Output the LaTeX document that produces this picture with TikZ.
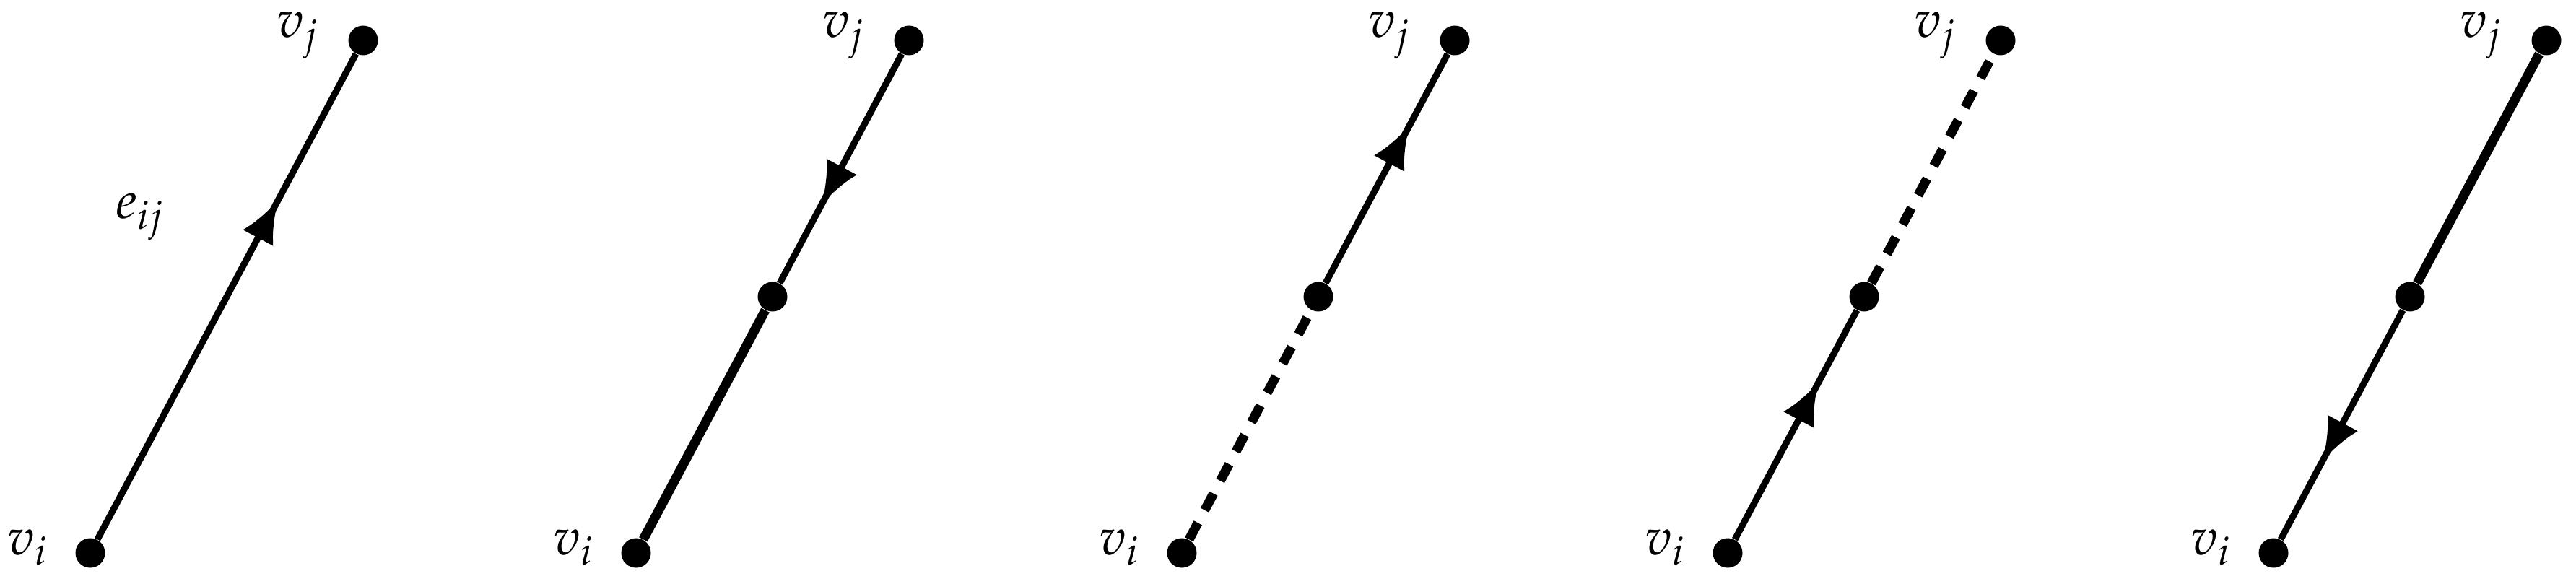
\documentclass[tikz,border=0pt]{standalone}
\usepackage{mathpazo}
\usetikzlibrary{arrows.meta,decorations.markings}

\tikzset{
  vertex/.style={circle,fill=black,inner sep=0pt,minimum size=0.41cm},
  vlabel/.style={inner sep=0pt,font=\fontsize{20.5}{24}\selectfont},
  thinedge/.style={line width=0.09cm},
  thickedge/.style={line width=0.13cm},
  dashedge/.style={line width=0.13cm,dash pattern=on 0.26cm off 0.2cm},
  arrowat/.style={postaction={decorate},
    decoration={markings,mark=at position #1 with {\arrow{Latex[length=0.6cm,width=0.48cm]}}}}
}

\begin{document}
\begin{tikzpicture}
  \useasboundingbox (0,0) rectangle (35.68,8.08);

  % one edge e_ij
  \node[vertex] (vi1) at ( 1.25,0.42) {};
  \node[vertex] (vj1) at ( 5.03,7.52) {};
  \draw[thinedge,arrowat=0.70] (vi1) -- (vj1);
  \node[vlabel,anchor=base west] (eij) at (1.60,5.05) {$e_{ij}$};

  % split, incoming from v_j
  \node[vertex] (vi2) at ( 8.81,0.42) {};
  \node[vertex] (m2)  at (10.70,3.97) {};
  \node[vertex] (vj2) at (12.59,7.52) {};
  \draw[thickedge]              (vi2) -- (m2);
  \draw[thinedge,arrowat=0.66]  (vj2) -- (m2);

  % dashed lower half
  \node[vertex] (vi3) at (16.37,0.42) {};
  \node[vertex] (m3)  at (18.26,3.97) {};
  \node[vertex] (vj3) at (20.15,7.52) {};
  \draw[dashedge]               (vi3) -- (m3);
  \draw[thinedge,arrowat=0.69]  (m3)  -- (vj3);

  % dashed upper half
  \node[vertex] (vi4) at (23.93,0.42) {};
  \node[vertex] (m4)  at (25.82,3.97) {};
  \node[vertex] (vj4) at (27.71,7.52) {};
  \draw[thinedge,arrowat=0.69]  (vi4) -- (m4);
  \draw[dashedge]               (m4)  -- (vj4);

  % split, outgoing to v_i
  \node[vertex] (vi5) at (31.49,0.42) {};
  \node[vertex] (m5)  at (33.38,3.97) {};
  \node[vertex] (vj5) at (35.27,7.52) {};
  \draw[thickedge]              (m5) -- (vj5);
  \draw[thinedge,arrowat=0.66]  (m5) -- (vi5);

  % vertex labels
  \foreach \k in {1,...,5}{
    \node[vlabel,anchor=base east] (li\k) at ([xshift=-0.58cm,yshift=-0.02cm]vi\k.center) {$v_i$};
    \node[vlabel,anchor=base east] (lj\k) at ([xshift=-0.61cm,yshift=0.04cm]vj\k.center) {$v_j$};
  }
\end{tikzpicture}
\end{document}
